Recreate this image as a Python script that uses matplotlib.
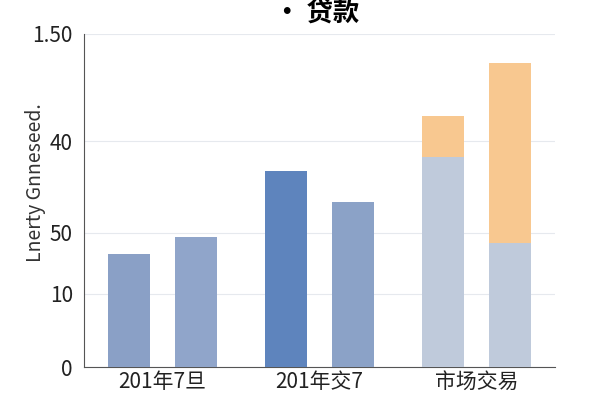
import matplotlib.pyplot as plt
import numpy as np

plt.rcParams['font.family'] = ['Noto Sans CJK SC', 'DejaVu Sans']

# categories and values (axis units 0-150)
groups = ["201年7旦", "201年交7", "市场交易"]
left_vals = [50.9, 88.3, 94.6]
right_vals = [58.6, 74.3, 55.9]
left_top = [0, 0, 18.5]      # orange stacked part
right_top = [0, 0, 81.0]
tick_pos = [0, 32.9, 60.4, 101.8, 150]
tick_labels = ["0", "10", "50", "40", "1.50"]

left_colors = ["#8aa0c6", "#5e84bd", "#bfcadb"]
right_colors = ["#90a5ca", "#8ba2c7", "#bfcadb"]
orange = "#f8c890"

fig = plt.figure(figsize=(6, 4), dpi=100)
ax = fig.add_axes([0.14, 0.0825, 0.785, 0.8325])

x = np.arange(len(groups))
off = 0.213
w = 0.27
ax.bar(x - off, left_vals, w, color=left_colors, zorder=3)
ax.bar(x + off, right_vals, w, color=right_colors, zorder=3)
ax.bar(x - off, left_top, w, bottom=left_vals, color=orange, zorder=3)
ax.bar(x + off, right_top, w, bottom=right_vals, color=orange, zorder=3)

ax.set_xlim(-0.5, 2.5)
ax.set_ylim(0, 150)
ax.set_yticks(tick_pos)
ax.set_yticklabels(tick_labels)
ax.set_xticks(x)
ax.set_xticklabels(groups)
ax.tick_params(length=0, labelsize=15, colors="#222222")
ax.tick_params(axis='x', pad=3)
ax.tick_params(axis='y', pad=8)
ax.grid(axis='y', color="#e6e9ee", linewidth=0.8, zorder=0)

for s in ["top", "right"]:
    ax.spines[s].set_visible(False)
ax.spines["left"].set_color("#555555")
ax.spines["bottom"].set_color("#555555")

ax.set_ylabel("Lnerty Gnneseed.", fontsize=14, color="#333333")
ax.yaxis.set_label_coords(-0.08, 0.553)
fig.text(0.527, 0.965, "· 贷款", fontsize=19, fontweight="bold", ha="center", va="center")

fig.savefig("out.png", dpi=100)
